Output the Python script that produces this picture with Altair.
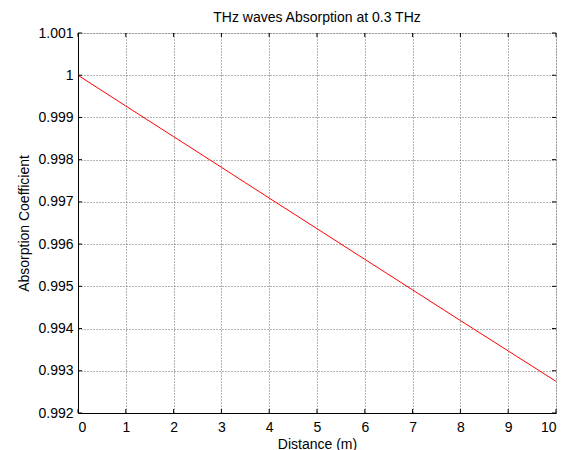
import altair as alt
import pandas as pd

distance = [0, 1, 2, 3, 4, 5, 6, 7, 8, 9, 10]
absorption = [1.0, 0.99927, 0.998545, 0.99782, 0.99709, 0.996365, 0.99564,
              0.994915, 0.99419, 0.99347, 0.99275]
x_ticks = [0, 1, 2, 3, 4, 5, 6, 7, 8, 9, 10]
y_ticks = [0.992, 0.993, 0.994, 0.995, 0.996, 0.997, 0.998, 0.999, 1.0, 1.001]

W, H = 478, 380
FONT = "Liberation Sans"
FS = 14

df = pd.DataFrame({"d": distance, "a": absorption})
xt = pd.DataFrame({"t": x_ticks})
yt = pd.DataFrame({"t": y_ticks})

xs = alt.Scale(domain=[0, 10], nice=False, zero=False)
ys = alt.Scale(domain=[0.992, 1.001], nice=False, zero=False)

common = dict(
    grid=True, tickSize=0, domainColor="black", domainWidth=1,
    labelFont=FONT, labelFontSize=FS, labelColor="black",
    titleFont=FONT, titleFontSize=FS, titleColor="black", titleFontWeight="normal",
    gridColor="#444444", gridDash=[1, 2], gridWidth=1, gridOpacity=0.8,
)

line = alt.Chart(df).mark_line(color="#ff0000", strokeWidth=1, clip=True).encode(
    x=alt.X("d:Q", scale=xs, title="Distance (m)",
            axis=alt.Axis(values=x_ticks, format="d", labelPadding=7,
                          titlePadding=3, **common)),
    y=alt.Y("a:Q", scale=ys, title="Absorption Coefficient",
            axis=alt.Axis(values=y_ticks, format=".4~f", labelPadding=5,
                          titlePadding=6, **common)),
)

yl = alt.Chart(yt).mark_rule(color="black", strokeWidth=1).encode(
    y=alt.Y("t:Q", scale=ys), x=alt.value(0), x2=alt.value(4))
yr = alt.Chart(yt).mark_rule(color="black", strokeWidth=1).encode(
    y=alt.Y("t:Q", scale=ys), x=alt.value(W - 4), x2=alt.value(W))
xb = alt.Chart(xt).mark_rule(color="black", strokeWidth=1).encode(
    x=alt.X("t:Q", scale=xs), y=alt.value(H - 4), y2=alt.value(H))
xtop = alt.Chart(xt).mark_rule(color="black", strokeWidth=1).encode(
    x=alt.X("t:Q", scale=xs), y=alt.value(0), y2=alt.value(4))

chart = alt.layer(line, yl, yr, xb, xtop).properties(
    width=W, height=H,
    title=alt.TitleParams("THz waves Absorption at 0.3 THz", fontSize=FS,
                          font=FONT, fontWeight="normal", color="black", offset=1),
    autosize=alt.AutoSizeParams(type="none"),
    padding={"left": 70, "top": 25, "right": 4, "bottom": 40},
).configure_view(
    stroke="black", strokeWidth=1, fill="white"
).configure(background="white")

chart.save("out.html", embed_options={"renderer": "svg", "actions": False})
